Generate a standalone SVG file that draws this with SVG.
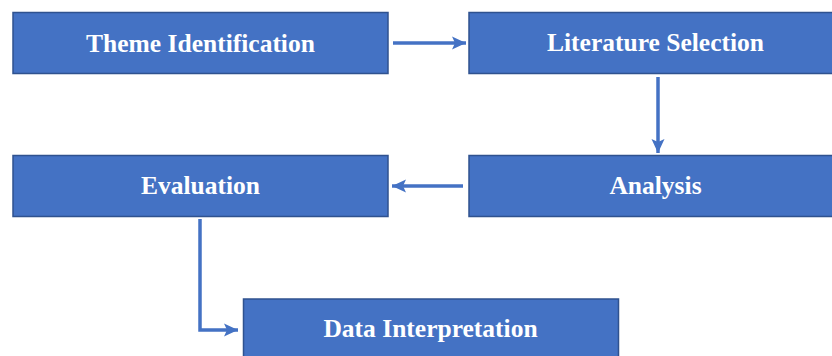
<svg xmlns="http://www.w3.org/2000/svg" width="832" height="356" viewBox="0 0 832 356">
<style>
.box{fill:#4472C4;stroke:#2F528F;stroke-width:1.5}
.lbl{font-family:"Liberation Serif","Times New Roman",serif;font-weight:bold;font-size:25.5px;fill:#FFFFFF;text-anchor:middle}
.con{fill:none;stroke:#4472C4;stroke-width:3.5}
</style>
<defs>
<marker id="ah" markerUnits="userSpaceOnUse" markerWidth="16" markerHeight="16" viewBox="0 0 16 16" refX="14" refY="8" orient="auto">
<polygon points="0,1.5 14,8 0,14.5 3,8" fill="#4472C4"/>
</marker>
</defs>
<rect width="832" height="356" fill="#FFFFFF"/>
<g id="connectors">
<line class="con" x1="393" y1="43" x2="466" y2="43" marker-end="url(#ah)"/>
<line class="con" x1="658" y1="77" x2="658" y2="153" marker-end="url(#ah)"/>
<line class="con" x1="463" y1="186" x2="392" y2="186" marker-end="url(#ah)"/>
<polyline class="con" points="200,219 200,330 238,330" marker-end="url(#ah)"/>
</g>
<g id="theme-identification">
<rect class="box" x="13" y="12.5" width="375" height="61"/>
<text class="lbl" x="200.5" y="51.5">Theme Identification</text>
</g>
<g id="literature-selection">
<rect class="box" x="469" y="12.5" width="375" height="61"/>
<text class="lbl" x="655.5" y="50.5">Literature Selection</text>
</g>
<g id="analysis">
<rect class="box" x="469" y="155.5" width="375" height="61"/>
<text class="lbl" x="655.5" y="193.5">Analysis</text>
</g>
<g id="evaluation">
<rect class="box" x="13" y="155.5" width="375" height="61"/>
<text class="lbl" x="200.5" y="193.5">Evaluation</text>
</g>
<g id="data-interpretation">
<rect class="box" x="243.5" y="299" width="375" height="61"/>
<text class="lbl" x="430.5" y="336.5">Data Interpretation</text>
</g>
</svg>
